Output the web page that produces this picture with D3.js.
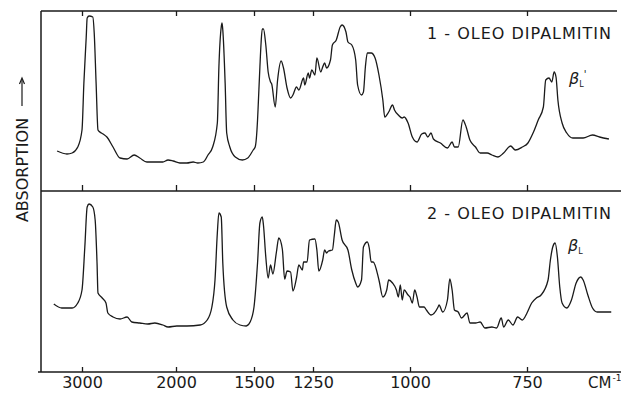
<!DOCTYPE html>
<html>
<head>
<meta charset="utf-8">
<script src="https://cdn.jsdelivr.net/npm/d3@7"></script>
<style>
  body { margin: 0; background: #fff; }
  text { font-family: "DejaVu Sans", sans-serif; fill: #1a1a1a; }
</style>
</head>
<body>
<div id="chart"></div>
<script>
// wavenumber ticks (cm-1) and their labels
const tickValues = [3000, 2000, 1500, 1250, 1000, 750];
const tickLabels = ['3000', '2000', '1500', '1250', '1000', '750'];

// panel titles
const panelTitles = ['1 - OLEO DIPALMITIN', '2 - OLEO DIPALMITIN'];

// 1-oleo dipalmitin (beta'L), wavenumber cm-1 and relative absorption
const upperWavenumber = [3265, 3160, 3105, 3045, 3000, 2980, 2955, 2945, 2925, 2885, 2870, 2850, 2830, 2810, 2775, 2735, 2670, 2595, 2520, 2445, 2385, 2310, 2200, 2140, 2085, 2030,
  1975, 1930, 1890, 1860, 1825, 1795, 1765, 1735, 1725, 1710, 1705, 1700, 1685, 1675, 1655, 1620, 1575, 1540, 1505,
  1495, 1485, 1483, 1475, 1470, 1465, 1460, 1450, 1440, 1430, 1425, 1410, 1400, 1385, 1375, 1360, 1345, 1335, 1320, 1310, 1290, 1285, 1270, 1265, 1255,
  1245, 1240, 1230, 1225, 1220, 1215, 1205, 1200, 1190, 1180, 1175, 1165, 1160, 1150, 1140, 1135, 1125, 1120, 1115, 1110, 1100, 1090, 1080, 1070, 1065, 1055, 1045, 1040, 1030, 1020, 1015, 1005,
  995, 985, 975, 968, 962, 955, 950, 935, 920, 910, 905, 897, 887, 880, 872, 860, 850, 835, 825, 812, 800, 785, 775, 760, 748, 737, 726, 715, 710, 703, 697, 692, 688, 684, 675, 665, 652, 630, 610, 595, 575];
const upperAbsorption = [40, 37, 38, 44, 61, 108, 154, 173, 175, 174, 158, 108, 61, 59, 57, 54, 44, 33, 32, 36, 33, 29, 29, 29, 31, 30,
  28, 28, 29, 28, 29, 36, 44, 68, 124, 164, 168, 161, 108, 58, 44, 34, 31, 33, 41,
  44, 71, 81, 124, 148, 162, 162, 146, 119, 109, 107, 84, 111, 130, 123, 103, 93, 96, 104, 101, 113, 106, 118, 113, 121,
  116, 133, 119, 124, 128, 123, 131, 146, 151, 164, 166, 159, 149, 146, 131, 106, 96, 99, 124, 138, 138, 133, 116, 91, 74, 79, 86, 81, 76, 73, 74, 68,
  54, 49, 57, 58, 54, 58, 52, 48, 43, 49, 44, 44, 71, 64, 51, 44, 38, 38, 36, 34, 38, 45, 41, 44, 48, 58, 71, 84, 111, 113, 109, 119, 114, 91, 68, 58, 53, 53, 56, 54, 52];

// 2-oleo dipalmitin (betaL)
const lowerWavenumber = [3300, 3215, 3105, 3045, 3000, 2970, 2945, 2925, 2885, 2860, 2840, 2830, 2785, 2745, 2725, 2670, 2595, 2520, 2470, 2385, 2300, 2225, 2140, 2085,
  1995, 1930, 1845, 1800, 1770, 1750, 1735, 1725, 1710, 1700, 1675, 1635, 1590, 1550, 1525,
  1500, 1485, 1475, 1465, 1460, 1450, 1440, 1430, 1420, 1405, 1395, 1380, 1370, 1360, 1345, 1335, 1320, 1310, 1295, 1290, 1275, 1265,
  1245, 1240, 1235, 1225, 1220, 1215, 1210, 1200, 1195, 1190, 1185, 1175, 1160, 1150, 1140, 1135, 1125, 1120, 1110, 1105, 1100, 1095, 1080, 1070, 1060, 1055, 1045, 1035, 1030, 1025, 1020, 1015, 1005,
  1000, 995, 990, 985, 980, 970, 965, 955, 940, 938, 930, 920, 915, 910, 905, 897, 890, 878, 872, 860, 850, 840, 825, 815, 805, 800, 790, 780, 770, 760, 750,
  740, 730, 720, 705, 700, 695, 690, 685, 680, 675, 665, 655, 645, 635, 630, 620, 610, 600, 590, 570];
const lowerAbsorption = [68, 64, 64, 69, 82, 125, 165, 168, 165, 152, 109, 79, 74, 69, 59, 55, 53, 55, 50, 49, 48, 49, 47, 45,
  46, 46, 47, 52, 65, 92, 139, 159, 155, 109, 65, 52, 47, 46, 50,
  65, 109, 149, 155, 147, 115, 94, 107, 98, 120, 134, 123, 93, 101, 100, 81, 94, 107, 102, 110, 110, 132,
  133, 122, 101, 112, 122, 119, 121, 122, 137, 152, 150, 132, 122, 102, 89, 85, 92, 125, 130, 124, 110, 110, 92, 75, 82, 92, 89, 82, 75, 87, 72, 82, 77,
  75, 69, 82, 75, 65, 65, 62, 57, 65, 67, 60, 72, 93, 82, 62, 60, 54, 59, 49, 49, 50, 44, 45, 44, 54, 45, 52, 47, 55, 52, 59,
  69, 74, 77, 92, 112, 125, 129, 115, 85, 69, 64, 72, 89, 95, 92, 77, 64, 60, 60, 60];

const width = 621;
const height = 395;
const frame = { left: 41, right: 621, top: 11, mid: 191, bottom: 372 };

const svg = d3.select('#chart').append('svg')
  .attr('width', width)
  .attr('height', height);

// prism spectrometer: dispersion is not linear, so piecewise scale between the ticks
const x = d3.scaleLinear()
  .domain(tickValues)
  .range([82, 176, 254, 313, 410, 527]);

const yUpper = d3.scaleLinear().domain([0, 180]).range([frame.mid, frame.top]);
const yLower = d3.scaleLinear().domain([0, 180]).range([frame.bottom, frame.mid + 1]);

// frame lines
const ink = '#1a1a1a';
svg.append('line').attr('x1', frame.left).attr('x2', frame.left).attr('y1', frame.top).attr('y2', frame.bottom)
  .attr('stroke', ink).attr('stroke-width', 1.5);
svg.append('line').attr('x1', frame.left).attr('x2', 617).attr('y1', frame.top).attr('y2', frame.top)
  .attr('stroke', ink).attr('stroke-width', 1.5);
svg.append('line').attr('x1', frame.left).attr('x2', frame.right).attr('y1', frame.mid).attr('y2', frame.mid)
  .attr('stroke', ink).attr('stroke-width', 1.5);
svg.append('line').attr('x1', 38).attr('x2', frame.right).attr('y1', frame.bottom).attr('y2', frame.bottom)
  .attr('stroke', ink).attr('stroke-width', 1.5);

// axes: ticks point into the panels
const bottomAxis = d3.axisBottom(x).tickValues(tickValues)
  .tickFormat((d, i) => tickLabels[i]).tickSizeInner(-5).tickSizeOuter(0).tickPadding(5);
const midAxis = d3.axisBottom(x).tickValues(tickValues).tickFormat('').tickSizeInner(-6).tickSizeOuter(0);
const topAxis = d3.axisBottom(x).tickValues(tickValues).tickFormat('').tickSizeInner(5).tickSizeOuter(0);

const gBottom = svg.append('g').attr('transform', `translate(0,${frame.bottom})`).call(bottomAxis);
svg.append('g').attr('transform', `translate(0,${frame.mid})`).call(midAxis);
svg.append('g').attr('transform', `translate(0,${frame.top})`).call(topAxis);

svg.selectAll('.domain').remove();
svg.selectAll('.tick line').attr('stroke', ink).attr('stroke-width', 1.3);
gBottom.selectAll('.tick text')
  .style('font-size', '16px')
  .style('font-family', '"DejaVu Sans", sans-serif')
  .attr('fill', ink);

// CM-1 unit
const unit = svg.append('text')
  .attr('x', 588)
  .attr('y', 388)
  .style('font-size', '15px')
  .text('CM');
unit.append('tspan').attr('dy', -7).attr('dx', 1).style('font-size', '9px').text('-1');

// spectra
const line = (yScale) => d3.line()
  .x((d) => x(d[0]))
  .y((d) => yScale(d[1]))
  .curve(d3.curveMonotoneX);

svg.append('path')
  .datum(d3.zip(upperWavenumber, upperAbsorption))
  .attr('fill', 'none')
  .attr('stroke', ink)
  .attr('stroke-width', 1.3)
  .attr('d', line(yUpper));

svg.append('path')
  .datum(d3.zip(lowerWavenumber, lowerAbsorption))
  .attr('fill', 'none')
  .attr('stroke', ink)
  .attr('stroke-width', 1.3)
  .attr('d', line(yLower));

// panel titles
svg.append('text')
  .attr('x', 612).attr('y', 39)
  .attr('text-anchor', 'end')
  .style('font-size', '16px')
  .style('letter-spacing', '1px')
  .text(panelTitles[0]);

svg.append('text')
  .attr('x', 612).attr('y', 219)
  .attr('text-anchor', 'end')
  .style('font-size', '16px')
  .style('letter-spacing', '1px')
  .text(panelTitles[1]);

// crystal form labels
const b1 = svg.append('text').attr('x', 569).attr('y', 84)
  .style('font-size', '16px').style('font-style', 'italic').text('β');
b1.append('tspan').attr('dy', 3).style('font-size', '8px').style('font-style', 'normal').text('L');
b1.append('tspan').attr('dx', 0).attr('dy', -9).style('font-size', '10px').style('font-style', 'normal').text('\'');

const b2 = svg.append('text').attr('x', 568).attr('y', 251)
  .style('font-size', '16px').style('font-style', 'italic').text('β');
b2.append('tspan').attr('dy', 3).style('font-size', '8px').style('font-style', 'normal').text('L');

// y label with arrow
svg.append('text')
  .attr('transform', 'translate(28,170) rotate(-90)')
  .attr('text-anchor', 'middle')
  .style('font-size', '16px')
  .text('ABSORPTION');

svg.append('line')
  .attr('x1', 22).attr('x2', 22).attr('y1', 106).attr('y2', 80)
  .attr('stroke', ink).attr('stroke-width', 1.2);
svg.append('path')
  .attr('d', 'M19.5,84 L22,78 L24.5,84')
  .attr('fill', 'none')
  .attr('stroke', ink)
  .attr('stroke-width', 1.2);
</script>
</body>
</html>
